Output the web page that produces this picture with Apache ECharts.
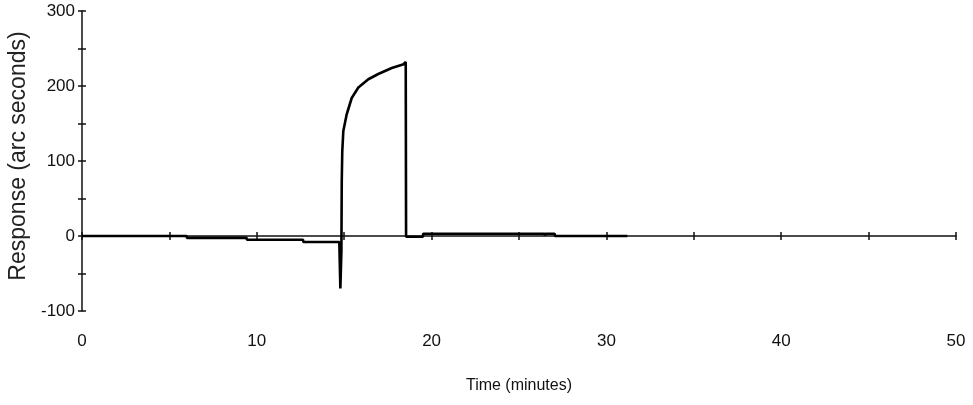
<!DOCTYPE html>
<html>
<head>
<meta charset="utf-8">
<script src="https://cdn.jsdelivr.net/npm/echarts@6/dist/echarts.min.js"></script>
<style>
  html, body { margin: 0; padding: 0; background: #fff; }
  #chart { width: 973px; height: 405px; }
</style>
</head>
<body>
<div id="chart"></div>
<script>
// time in minutes
var times = [0, 5.99, 6.0, 9.42, 9.43, 12.65, 12.66, 14.72, 14.78, 14.84, 14.86, 14.89, 14.95, 15.14, 15.43,
  15.81, 16.38, 16.95, 17.72, 18.40, 18.52, 18.54, 19.50, 19.52, 26.46, 26.49, 26.52, 27.04, 27.06, 31.20];
// response in arc seconds
var responses = [0, 0, -2.5, -2.5, -5, -5, -8, -8, -70, -20, 73, 113, 140, 162, 184,
  198, 209, 216, 224, 229, 232, -1, -1, 3, 3, 1, 3, 3, 0, 0];
var xTickLabels = [0, 10, 20, 30, 40, 50];
var yTickLabels = [-100, 0, 100, 200, 300];

var chart = echarts.init(document.getElementById('chart'));

var points = times.map(function (t, i) { return [t, responses[i]]; });
var sans = '"Liberation Sans", Arial, sans-serif';
var axisLine = { show: true, lineStyle: { color: '#111', width: 1.5 } };

// custom polyline: the built-in line series drops steps under 2px
function renderTrace(params, api) {
  if (params.dataIndex !== 0) return null;
  var pts = points.map(function (p) { return api.coord(p); });
  return {
    type: 'polyline',
    shape: { points: pts },
    style: { stroke: '#000', lineWidth: 2.6, fill: null, lineJoin: 'bevel' }
  };
}

var option = {
  animation: false,
  grid: { left: 82, right: 17, top: 11, bottom: 94, containLabel: false, outerBoundsMode: 'none' },
  xAxis: [{
    type: 'value',
    min: 0,
    max: 50,
    interval: 5,
    position: 'bottom',
    axisLine: axisLine,
    axisTick: { show: true, length: 4, lineStyle: { color: '#111', width: 1.5 } },
    axisLabel: {
      color: '#111',
      fontFamily: sans,
      fontSize: 17,
      margin: 22,
      formatter: function (v) { return xTickLabels.indexOf(v) >= 0 ? String(v) : ''; }
    },
    splitLine: { show: false },
    name: 'Time (minutes)',
    nameLocation: 'middle',
    nameGap: 67,
    nameTextStyle: { color: '#111', fontFamily: sans, fontSize: 16 }
  }, {
    type: 'value',
    min: 0,
    max: 50,
    interval: 5,
    position: 'bottom',
    axisLine: { show: false },
    axisTick: { show: true, inside: true, length: 4, lineStyle: { color: '#111', width: 1.5 } },
    axisLabel: { show: false },
    splitLine: { show: false }
  }],
  yAxis: [{
    type: 'value',
    min: -100,
    max: 300,
    interval: 50,
    position: 'left',
    axisLine: axisLine,
    axisTick: { show: true, length: 4, lineStyle: { color: '#111', width: 1.5 } },
    axisLabel: {
      color: '#111',
      fontFamily: sans,
      fontSize: 17,
      margin: 7,
      formatter: function (v) { return yTickLabels.indexOf(v) >= 0 ? String(v) : ''; }
    },
    splitLine: { show: false },
    name: 'Response (arc seconds)',
    nameLocation: 'middle',
    nameGap: 50,
    nameTextStyle: { color: '#222', fontFamily: sans, fontSize: 23, padding: [0, 0, 0, 10] }
  }, {
    type: 'value',
    min: -100,
    max: 300,
    interval: 50,
    position: 'left',
    axisLine: { show: false },
    axisTick: { show: true, inside: true, length: 4, lineStyle: { color: '#111', width: 1.5 } },
    axisLabel: { show: false },
    splitLine: { show: false }
  }],
  series: [{
    type: 'custom',
    data: points,
    encode: { x: 0, y: 1 },
    renderItem: renderTrace,
    clip: false,
    silent: true
  }]
};

chart.setOption(option);
</script>
</body>
</html>
